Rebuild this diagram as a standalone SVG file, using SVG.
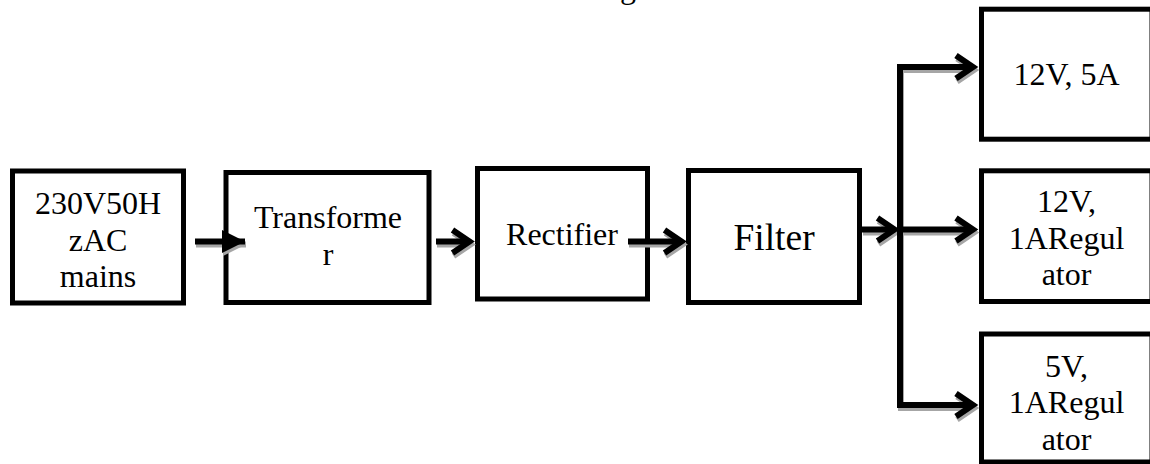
<svg xmlns="http://www.w3.org/2000/svg" width="1150" height="464" viewBox="0 0 1150 464">
  <style>
    .box { fill: #ffffff; stroke: #000000; stroke-width: 5; }
    text { font-family: 'Liberation Serif', 'DejaVu Serif', serif; font-size: 32px; fill: #000000; text-anchor: middle; }
    .big { font-size: 37.5px; }
    .ln { fill: none; stroke: #000000; stroke-width: 6; stroke-linejoin: miter; stroke-linecap: butt; }
    .sh { fill: none; stroke: #a6a6a6; stroke-width: 6; stroke-linejoin: miter; stroke-linecap: butt; }
  </style>
  <defs>
    <marker id="chev" markerUnits="userSpaceOnUse" viewBox="-4 -4 32 31" markerWidth="32" markerHeight="31" refX="17" refY="11.5" orient="auto" overflow="visible">
      <path d="M0,0 L17,11.5 L0,23" fill="none" stroke="#000000" stroke-width="6" stroke-linejoin="miter"/>
    </marker>
    <marker id="chevS" markerUnits="userSpaceOnUse" viewBox="-4 -4 32 31" markerWidth="32" markerHeight="31" refX="17" refY="11.5" orient="auto" overflow="visible">
      <path d="M0,0 L17,11.5 L0,23" fill="none" stroke="#a6a6a6" stroke-width="6" stroke-linejoin="miter"/>
    </marker>
    <marker id="tri" markerUnits="userSpaceOnUse" viewBox="0 0 23 23" markerWidth="23" markerHeight="23" refX="23" refY="11.5" orient="auto" overflow="visible">
      <path d="M0,0 L23,11.5 L0,23 Z" fill="#000000"/>
    </marker>
    <marker id="triS" markerUnits="userSpaceOnUse" viewBox="0 0 23 23" markerWidth="23" markerHeight="23" refX="23" refY="11.5" orient="auto" overflow="visible">
      <path d="M0,0 L23,11.5 L0,23 Z" fill="#a6a6a6"/>
    </marker>
  </defs>

  <rect x="0" y="0" width="1150" height="464" fill="#ffffff"/>

  <text x="628" y="-2" font-family="Liberation Serif, serif">g</text>

  <g id="node-mains" font-family="Liberation Serif, serif">
    <rect class="box" x="12.5" y="171" width="171" height="132"/>
    <text x="98" y="214">230V50H</text>
    <text x="98" y="250.5">zAC</text>
    <text x="98" y="287">mains</text>
  </g>

  <g id="node-transformer" font-family="Liberation Serif, serif">
    <rect class="box" x="226" y="172.5" width="203" height="130"/>
    <text x="328" y="228">Transforme</text>
    <text x="328" y="265">r</text>
  </g>

  <g id="node-rectifier" font-family="Liberation Serif, serif">
    <rect class="box" x="477.5" y="168.5" width="170" height="130.5"/>
    <text x="562" y="245">Rectifier</text>
  </g>

  <g id="node-filter" font-family="Liberation Serif, serif">
    <rect class="box" x="688.5" y="170.5" width="171" height="132"/>
    <text class="big" x="774" y="250">Filter</text>
  </g>

  <g id="node-12v5a" font-family="Liberation Serif, serif">
    <rect class="box" x="981.5" y="9.2" width="170.5" height="130"/>
    <text x="1066.5" y="85">12V, 5A</text>
  </g>

  <g id="node-12v1a" font-family="Liberation Serif, serif">
    <rect class="box" x="981.5" y="170.8" width="170.5" height="130.7"/>
    <text x="1066.5" y="212">12V,</text>
    <text x="1066.5" y="248.5">1ARegul</text>
    <text x="1066.5" y="285">ator</text>
  </g>

  <g id="node-5v1a" font-family="Liberation Serif, serif">
    <rect class="box" x="981.5" y="334" width="170.5" height="128"/>
    <text x="1066.5" y="376.5">5V,</text>
    <text x="1066.5" y="413">1ARegul</text>
    <text x="1066.5" y="449.5">ator</text>
  </g>

  <g id="connectors">
    <g id="shadows" transform="translate(1,3)">
      <path class="sh" d="M195,241.5 H245" marker-end="url(#triS)"/>
      <path class="sh" d="M436,241.5 H469.5" marker-end="url(#chevS)"/>
      <path class="sh" d="M628,241.5 H681.5" marker-end="url(#chevS)"/>
      <path class="sh" d="M862,229.5 H894.5" marker-end="url(#chevS)"/>
      <path class="sh" d="M900,405 V67 H973" marker-end="url(#chevS)"/>
      <path class="sh" d="M900,229.5 H973" marker-end="url(#chevS)"/>
      <path class="sh" d="M897,405 H973" marker-end="url(#chevS)"/>
    </g>
    <path class="ln" d="M195,241.5 H245" marker-end="url(#tri)"/>
    <path class="ln" d="M436,241.5 H469.5" marker-end="url(#chev)"/>
    <path class="ln" d="M628,241.5 H681.5" marker-end="url(#chev)"/>
    <path class="ln" d="M862,229.5 H894.5" marker-end="url(#chev)"/>
    <path class="ln" d="M900,405 V67 H973" marker-end="url(#chev)"/>
    <path class="ln" d="M900,229.5 H973" marker-end="url(#chev)"/>
    <path class="ln" d="M897,405 H973" marker-end="url(#chev)"/>
  </g>
</svg>
